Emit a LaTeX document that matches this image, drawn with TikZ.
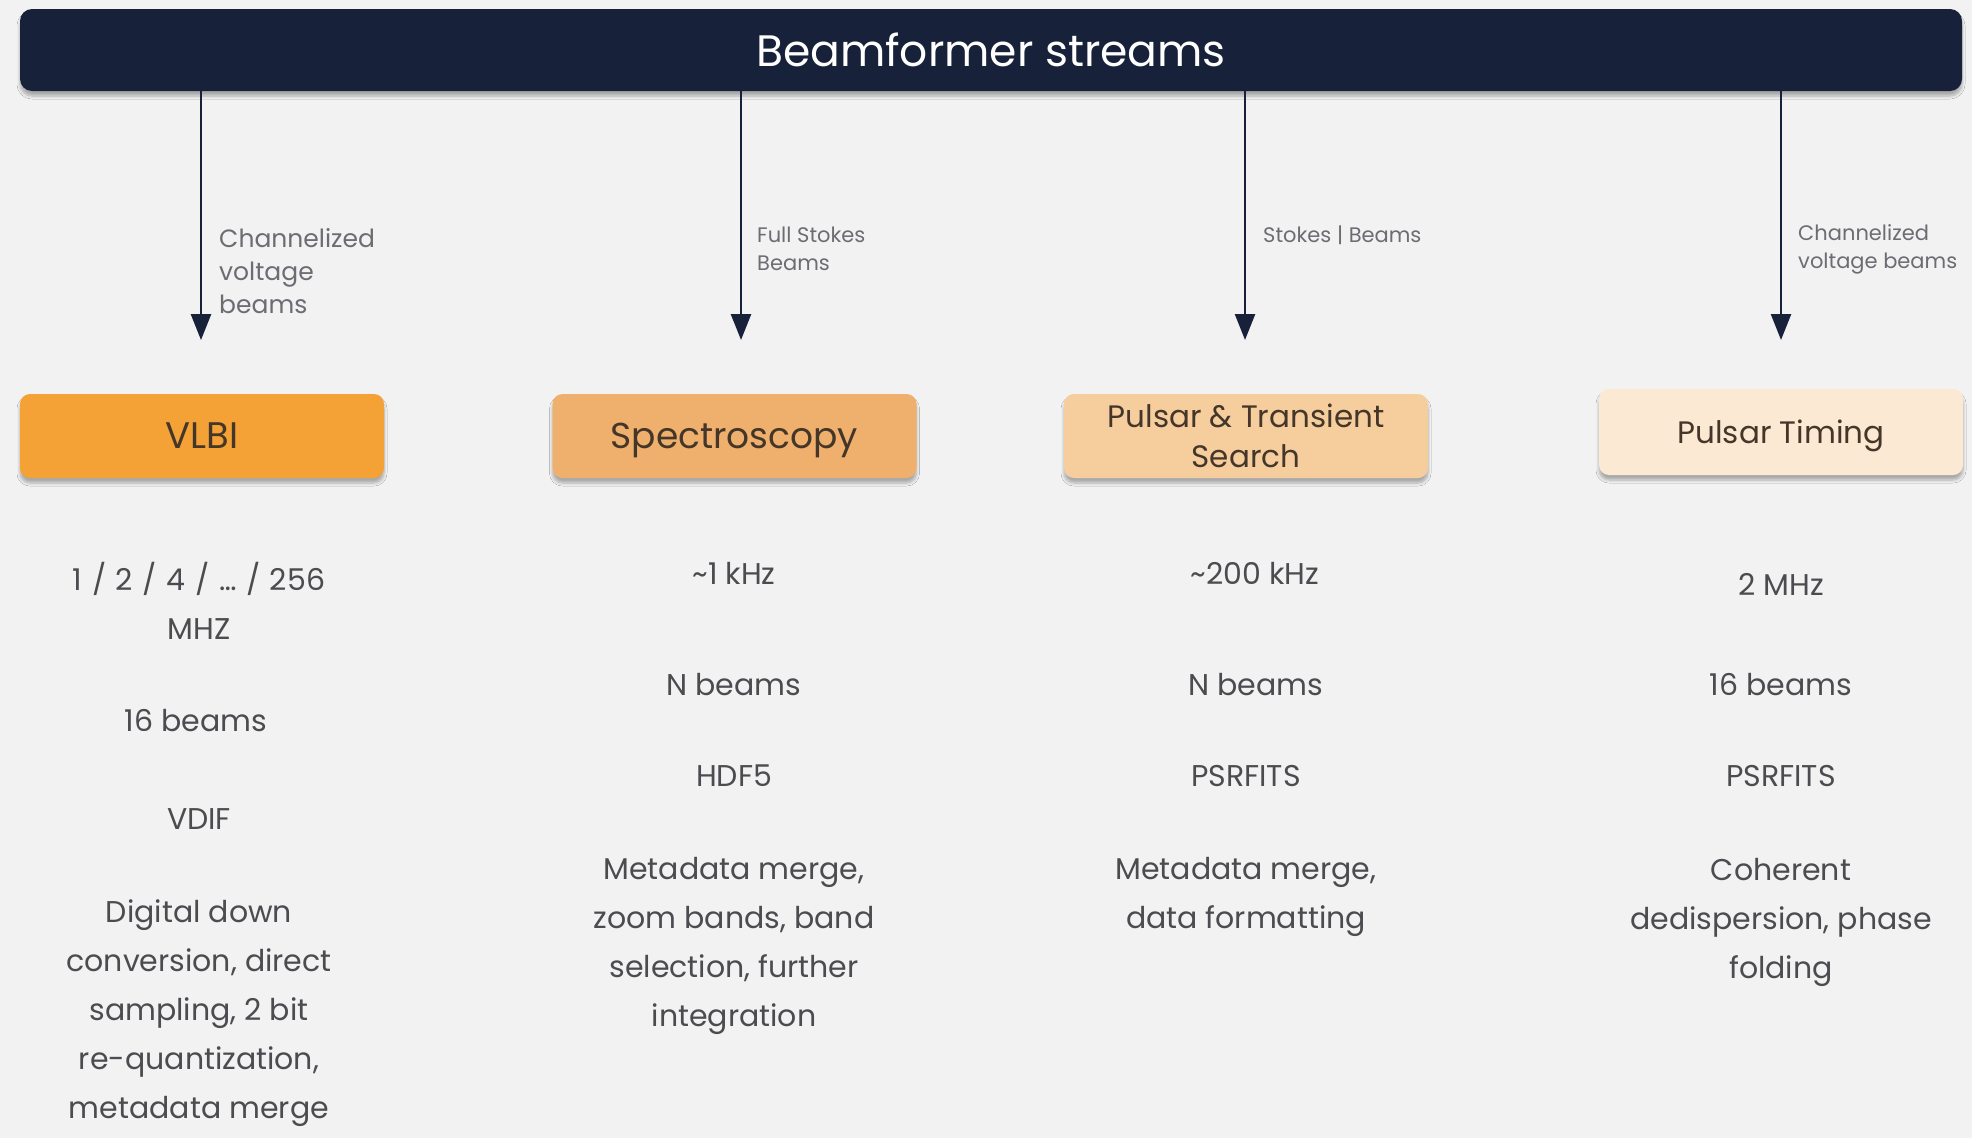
\documentclass[tikz,border=0pt]{standalone}
\usepackage{fontspec}
\setmainfont{Poppins}
\usetikzlibrary{shadows.blur,arrows.meta}
\definecolor{bg}{HTML}{F2F2F3}
\definecolor{navy}{HTML}{18213A}
\definecolor{vlbi}{HTML}{F4A136}
\definecolor{spec}{HTML}{EEB06C}
\definecolor{psrs}{HTML}{F6CE9E}
\definecolor{psrt}{HTML}{FBE9D3}
\definecolor{boxtxt}{HTML}{45362A}
\definecolor{bodytxt}{HTML}{4C4C50}
\definecolor{lbltxt}{HTML}{6C6C72}
\tikzset{
  softshadow/.style={blur shadow={shadow xshift=0pt, shadow yshift=-5pt,
      shadow blur radius=3pt, shadow blur steps=6, shadow opacity=30}},
  header/.style={fill=navy, rounded corners=12pt, text=white, softshadow,
      minimum width=1942pt, minimum height=82pt, inner sep=0pt,
      font=\fontsize{44}{52}\selectfont},
  modebox/.style={rounded corners=10pt, softshadow, text=boxtxt, align=center,
      minimum width=364pt, minimum height=84pt, inner sep=0pt},
  flow/.style={draw=navy, line width=2.6pt,
      -{Triangle[width=20pt,length=26pt]}},
  biglbl/.style={anchor=west, align=left, text=lbltxt, inner sep=0pt,
      font=\fontsize{25}{33}\selectfont},
  smalllbl/.style={anchor=west, align=left, text=lbltxt, inner sep=0pt,
      font=\fontsize{21}{28}\selectfont},
  spec/.style={align=center, text=bodytxt, inner sep=0pt,
      font=\fontsize{30}{49}\selectfont},
}
\newcommand\sep{\hspace{0.32em}/\hspace{0.32em}}
\begin{document}
\begin{tikzpicture}[x=1pt,y=-1pt]
% page background and fixed frame
\fill[bg] (0,0) rectangle (1972,1138);
\useasboundingbox (0,0) rectangle (1972,1138);

% header bar
\node[header] (hdr) at (991,50) {Beamformer streams};

% processing modes
\node[modebox, fill=vlbi, font=\fontsize{37}{44}\selectfont] (vlbi) at (202,436) {VLBI};
\node[modebox, fill=spec, text depth=0pt, font=\fontsize{36}{44}\selectfont] (spec) at (734.5,436) {Spectroscopy};
\node[modebox, fill=psrs, font=\fontsize{31}{40}\selectfont] (psrs) at (1246,436) {Pulsar \& Transient\\Search};
\node[modebox, fill=psrt, minimum height=86pt, text depth=0pt, font=\fontsize{31}{40}\selectfont] (psrt) at (1781,432) {Pulsar Timing};

% arrow end points just above the boxes
\coordinate (t1) at (201,340);
\coordinate (t2) at (741,340);
\coordinate (t3) at (1245,340);
\coordinate (t4) at (1781,340);

\draw[flow] (hdr.south -| t1) -- (t1);
\draw[flow] (hdr.south -| t2) -- (t2);
\draw[flow] (hdr.south -| t3) -- (t3);
\draw[flow] (hdr.south -| t4) -- (t4);

% stream labels
\node[biglbl] (l1) at (219,271) {Channelized\\voltage\\beams};
\node[smalllbl] (l2) at (757,249) {Full Stokes\\Beams};
\node[smalllbl] (l3) at (1263,235) {Stokes | Beams};
\node[smalllbl] (l4) at (1798,249) {Channelized\\voltage beams};

% VLBI details
\node[spec] (v1) at (199,601) {1\sep 2\sep 4\sep …\sep 256\\MHZ};
\node[spec] (v2) at (196,721) {16 beams};
\node[spec] (v3) at (199,819) {VDIF};
\node[spec] (v4) at (199,1013) {Digital down\\conversion, direct\\sampling, 2 bit\\re-quantization,\\metadata merge};

% spectroscopy details
\node[spec] (s1) at (734,573) {\textasciitilde1 kHz};
\node[spec] (s2) at (734,685) {N beams};
\node[spec] (s3) at (734,776) {HDF5};
\node[spec] (s4) at (734,946) {Metadata merge,\\zoom bands, band\\selection, further\\integration};

% pulsar & transient search details
\node[spec] (p1) at (1255,573) {\textasciitilde200 kHz};
\node[spec] (p2) at (1256,685) {N beams};
\node[spec] (p3) at (1246,776) {PSRFITS};
\node[spec] (p4) at (1246,897) {Metadata merge,\\data formatting};

% pulsar timing details
\node[spec] (q1) at (1781,584) {2 MHz};
\node[spec] (q2) at (1781,685) {16 beams};
\node[spec] (q3) at (1781,776) {PSRFITS};
\node[spec] (q4) at (1781,922) {Coherent\\dedispersion, phase\\folding};
\end{tikzpicture}
\end{document}
